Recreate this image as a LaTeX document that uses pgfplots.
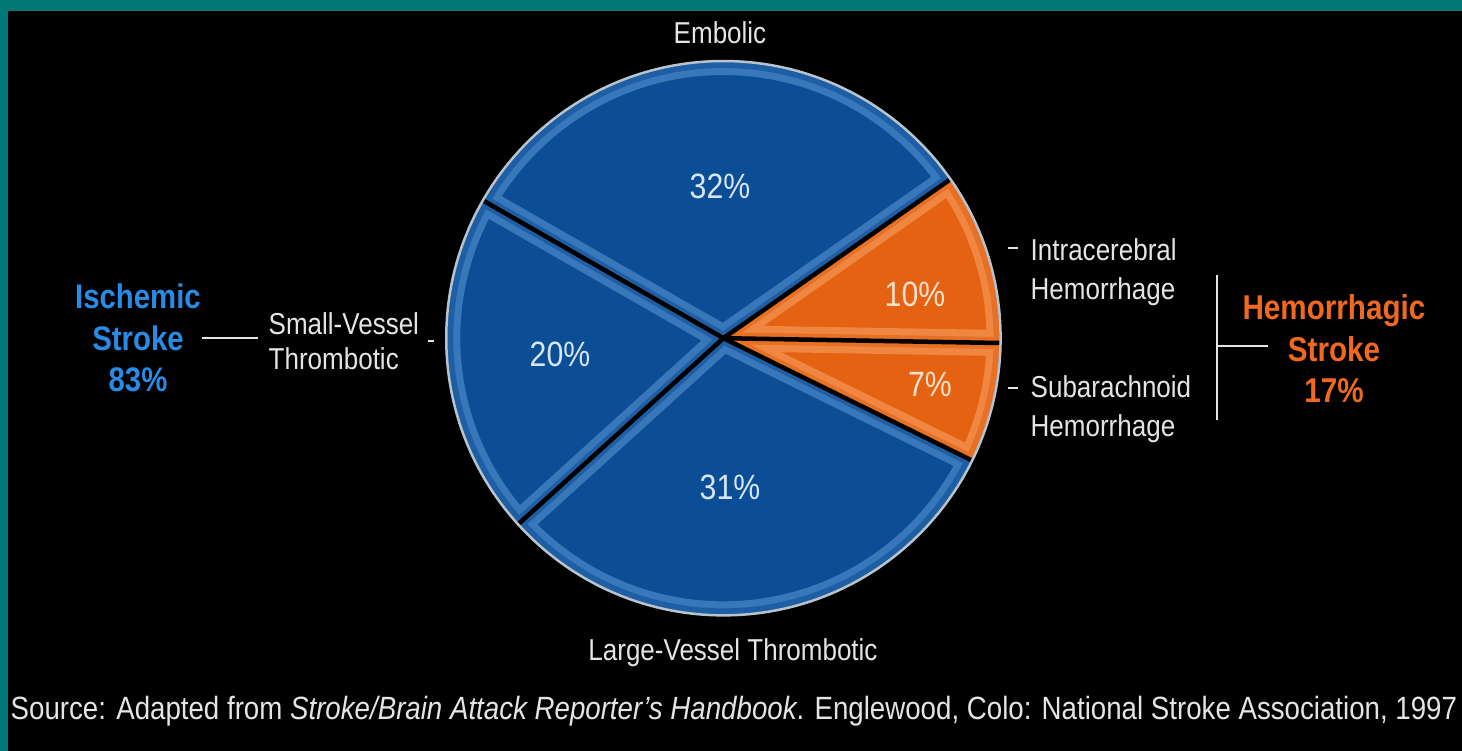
\documentclass[border=0pt]{standalone}
\usepackage{pgfplots}
\usepackage{pgfplotstable}
\pgfplotsset{compat=1.18}
\usepackage{fontspec}
\setmainfont{Liberation Sans}[FakeStretch=0.86]

\definecolor{tealb}{RGB}{0,120,120}
\definecolor{pieblue}{RGB}{12,78,150}
\definecolor{bevelblue}{RGB}{100,160,220}
\definecolor{pieorange}{RGB}{228,98,18}
\definecolor{bevelorange}{RGB}{250,170,115}
\definecolor{ischblue}{RGB}{40,140,230}
\definecolor{hemorange}{RGB}{240,105,30}
\definecolor{pctblue}{RGB}{215,230,248}
\definecolor{pctorange}{RGB}{253,225,205}
\definecolor{labgray}{RGB}{228,228,228}
\definecolor{ringgray}{RGB}{185,195,205}

\pgfplotstableread{
slice value
Intracerebral 10
Embolic 32
SmallVessel 20
LargeVessel 31
Subarachnoid 7
}\strokedata

\expandafter\def\csname scol0\endcsname{pieorange}
\expandafter\def\csname scol1\endcsname{pieblue}
\expandafter\def\csname scol2\endcsname{pieblue}
\expandafter\def\csname scol3\endcsname{pieblue}
\expandafter\def\csname scol4\endcsname{pieorange}
\expandafter\def\csname bcol0\endcsname{bevelorange}
\expandafter\def\csname bcol1\endcsname{bevelblue}
\expandafter\def\csname bcol2\endcsname{bevelblue}
\expandafter\def\csname bcol3\endcsname{bevelblue}
\expandafter\def\csname bcol4\endcsname{bevelorange}

\newcommand{\sector}[2]{(axis cs:0,0) -- (axis cs:{cos(#1)},{sin(#1)}) arc[start angle=#1, end angle=#2, radius=2.76cm] -- cycle}

\begin{document}
\begin{tikzpicture}
\begin{scope}[x=0.01cm,y=-0.01cm,yshift=7.51cm]
\fill[tealb] (0,0) rectangle (1462,751);
\fill[black] (8,11) rectangle (1462,751);
\path[use as bounding box] (0,0) rectangle (1462,751);
\end{scope}

\gdef\cum{-1}
\pgfplotsforeachungrouped \i in {0,...,4}{%
  \pgfplotstablegetelem{\i}{value}\of\strokedata
  \pgfmathsetmacro\a{\cum}%
  \pgfmathsetmacro\b{\cum+3.6*\pgfplotsretval}%
  \expandafter\xdef\csname sa\i\endcsname{\a}%
  \expandafter\xdef\csname sb\i\endcsname{\b}%
  \xdef\cum{\b}%
}

\begin{axis}[at={(7.23cm,4.13cm)}, anchor=origin, x=2.76cm, y=2.76cm,
  xmin=-1.1, xmax=1.1, ymin=-1.1, ymax=1.1, hide axis, clip=false]
\pgfplotsinvokeforeach{0,...,4}{
  \begin{scope}
    \clip \sector{\csname sa#1\endcsname}{\csname sb#1\endcsname};
    \fill[\csname scol#1\endcsname] \sector{\csname sa#1\endcsname}{\csname sb#1\endcsname};
    \draw[\csname bcol#1\endcsname, opacity=0.5, line width=0.26cm] \sector{\csname sa#1\endcsname}{\csname sb#1\endcsname};
    \draw[\csname scol#1\endcsname, opacity=0.6, line width=0.12cm] \sector{\csname sa#1\endcsname}{\csname sb#1\endcsname};
  \end{scope}
}
\pgfplotsinvokeforeach{0,...,4}{
  \draw[black, line width=0.045cm] (axis cs:0,0) -- (axis cs:{cos(\csname sa#1\endcsname)},{sin(\csname sa#1\endcsname)});
}
\draw[ringgray, line width=0.025cm] (axis cs:0,0) circle[radius=2.77cm];
\end{axis}

\begin{scope}[x=0.01cm,y=-0.01cm,yshift=7.51cm]
% percentages
\node[pctblue, font=\fontsize{10}{11}\selectfont] at (720,186) {32\%};
\node[pctblue, font=\fontsize{10}{11}\selectfont] at (560,354) {20\%};
\node[pctblue, font=\fontsize{10}{11}\selectfont] at (730,487) {31\%};
\node[pctorange, font=\fontsize{10}{11}\selectfont] at (915,294) {10\%};
\node[pctorange, font=\fontsize{10}{11}\selectfont] at (930,384) {7\%};
% labels
\node[labgray, font=\fontsize{8.6}{10}\selectfont] at (720,33) {Embolic};
\node[labgray, font=\fontsize{8.6}{10}\selectfont] at (733,653) {Large-Vessel Thrombotic};
\node[labgray, font=\fontsize{8.6}{9.8}\selectfont, anchor=west, align=left, inner sep=0pt] at (268,341) {Small-Vessel\\Thrombotic};
\draw[labgray, line width=0.015cm] (428,341) -- (434,341);
\node[labgray, font=\fontsize{8.6}{11}\selectfont, anchor=west, align=left, inner sep=0pt] at (1030,272) {Intracerebral\\Hemorrhage};
\node[labgray, font=\fontsize{8.6}{11}\selectfont, anchor=west, align=left, inner sep=0pt] at (1030,409) {Subarachnoid\\Hemorrhage};
\draw[labgray, line width=0.02cm] (1008,248) -- (1018,248);
\draw[labgray, line width=0.02cm] (1008,388) -- (1018,388);
\draw[labgray, line width=0.025cm] (1217,275) -- (1217,420);
\draw[labgray, line width=0.025cm] (1217,346) -- (1268,346);
\draw[labgray, line width=0.025cm] (202,338) -- (258,338);
% group titles
\node[ischblue, font=\bfseries\fontsize{9.7}{11.8}\selectfont, align=center] at (138,338) {Ischemic\\Stroke\\83\%};
\node[hemorange, font=\bfseries\fontsize{9.8}{11.8}\selectfont, align=center] at (1334,349) {Hemorrhagic\\Stroke\\17\%};
% source
\node[labgray, font=\fontsize{9.15}{10}\selectfont, anchor=west, inner sep=0pt] at (10,711) {Source: Adapted from \textit{Stroke/Brain Attack Reporter's Handbook}. Englewood, Colo: National Stroke Association, 1997};
\end{scope}
\end{tikzpicture}
\end{document}
